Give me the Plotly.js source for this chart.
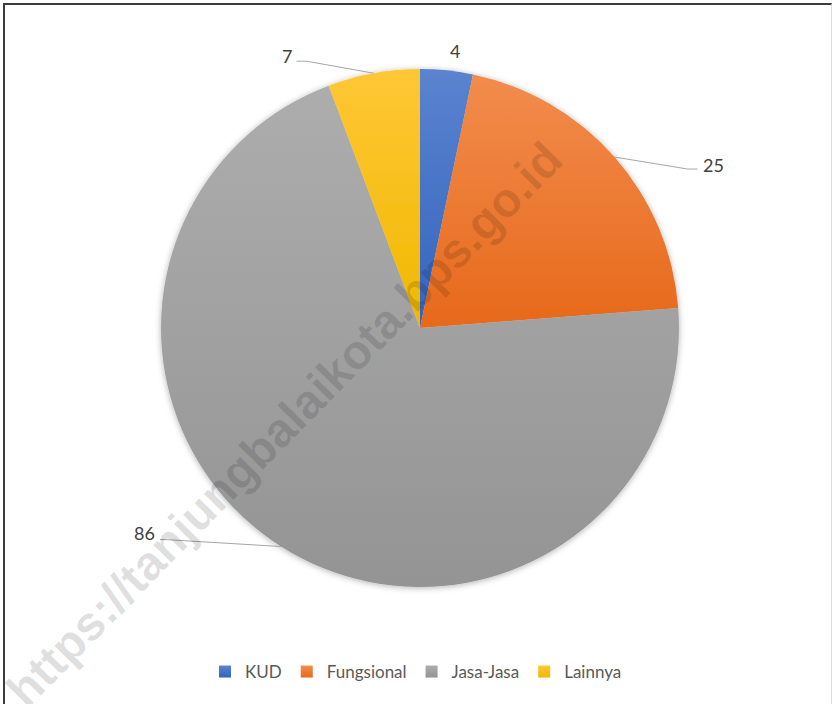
<!DOCTYPE html>
<html><head><meta charset="utf-8">
<script src="https://cdn.plot.ly/plotly-3.0.1.min.js"></script>
<style>
html,body{margin:0;padding:0;background:#fff;}
#wrap{position:relative;width:832px;height:704px;overflow:hidden;}
#chart{width:832px;height:704px;}
#frame{position:absolute;left:3px;top:3px;right:0;bottom:-10px;border-top:2px solid #3c3c3c;border-left:2px solid #3c3c3c;border-right:1px solid #dcdcdc;pointer-events:none;}
</style></head><body>
<div id="wrap"><div id="chart"></div><div id="frame"></div></div>
<script>
// ---- data ----
const categories = ['KUD', 'Fungsional', 'Jasa-Jasa', 'Lainnya'];
const values = [4, 25, 86, 7];
const valueLabels = ['4', '25', '86', '7'];

// ---- style ----
const colors = ['#4472C4', '#ED7D31', '#A5A5A5', '#FFC000'];
const gradTop = ['#5b83cf', '#f28c4d', '#adadad', '#ffc735'];
const gradBot = ['#3364be', '#e7691b', '#949494', '#f0b800'];
const W = 832, H = 704;
const CX = 420, CY = 328, R = 259;
// per-slice label placement, pixel offsets from the slice's outer mid point
const labelCfg = [
  {line: null, tx: 8, ty: -19, anchor: 'center'},
  {line: [[73, 12], [83, 12]], tx: 86, ty: 8, anchor: 'left'},
  {line: [[-116, -7], [-121, -7]], tx: -124, ty: -14, anchor: 'right'},
  {line: [[-67, -12], [-77, -12]], tx: -80, ty: -17, anchor: 'right'}
];

const px = x => x / W;
const py = y => 1 - y / H;

const total = values.reduce((a, b) => a + b, 0);
let cum = 0;
const shapes = [];
const annotations = [];
values.forEach((v, i) => {
  const mid = (cum + v / 2) / total * 2 * Math.PI;
  cum += v;
  const ex = CX + R * Math.sin(mid), ey = CY - R * Math.cos(mid);
  const c = labelCfg[i];
  if (c.line) {
    let d = 'M' + px(ex) + ',' + py(ey);
    c.line.forEach(p => { d += ' L' + px(ex + p[0]) + ',' + py(ey + p[1]); });
    shapes.push({type: 'path', xref: 'paper', yref: 'paper', path: d,
      line: {color: '#a6a6a6', width: 1}});
  }
  annotations.push({xref: 'paper', yref: 'paper', x: px(ex + c.tx), y: py(ey + c.ty),
    xanchor: c.anchor, yanchor: 'middle', showarrow: false, text: valueLabels[i],
    font: {family: 'Lato, "Open Sans", sans-serif', size: 18, color: '#404040'}});
});

// watermark
annotations.push({xref: 'paper', yref: 'paper', x: px(284), y: py(424), xanchor: 'center', yanchor: 'middle',
  showarrow: false, text: 'https://tanjungbalaikota.bps.go.id', textangle: -45.5,
  font: {family: '"Liberation Sans", Arial, sans-serif', size: 48, color: 'rgba(0,0,0,0.12)', weight: 'bold'}});

const trace = {
  type: 'pie', labels: categories, values: values, sort: false, direction: 'clockwise', rotation: 0,
  textinfo: 'none', hoverinfo: 'label+value',
  marker: {colors: colors, line: {width: 0}},
  domain: {x: [px(CX - R), px(CX + R)], y: [py(CY + R), py(CY - R)]}
};

const layout = {
  width: W, height: H, margin: {l: 0, r: 0, t: 0, b: 0},
  paper_bgcolor: '#ffffff', plot_bgcolor: '#ffffff',
  showlegend: true,
  legend: {orientation: 'h', x: 0.5, xanchor: 'center', y: py(672), yanchor: 'middle',
    font: {family: 'Lato, "Open Sans", sans-serif', size: 17, color: '#595959'}, itemwidth: 30},
  shapes: shapes, annotations: annotations
};

function decorate(gd) {
  const svg = gd.querySelector('svg.main-svg');
  const NS = 'http://www.w3.org/2000/svg';
  let defs = svg.querySelector('defs');
  if (!defs) { defs = document.createElementNS(NS, 'defs'); svg.insertBefore(defs, svg.firstChild); }
  if (!defs.querySelector('#pgrad0')) {
    colors.forEach((c, i) => {
      const g = document.createElementNS(NS, 'linearGradient');
      g.setAttribute('id', 'pgrad' + i);
      g.setAttribute('x1', '0'); g.setAttribute('y1', '0'); g.setAttribute('x2', '0'); g.setAttribute('y2', '1');
      [[0, gradTop[i]], [1, gradBot[i]]].forEach(s => {
        const st = document.createElementNS(NS, 'stop');
        st.setAttribute('offset', s[0]); st.setAttribute('stop-color', s[1]);
        g.appendChild(st);
      });
      defs.appendChild(g);
    });
    const f = document.createElementNS(NS, 'filter');
    f.setAttribute('id', 'pshadow');
    f.setAttribute('x', '-10%'); f.setAttribute('y', '-10%'); f.setAttribute('width', '120%'); f.setAttribute('height', '120%');
    const ds = document.createElementNS(NS, 'feDropShadow');
    ds.setAttribute('dx', '0'); ds.setAttribute('dy', '1'); ds.setAttribute('stdDeviation', '3');
    ds.setAttribute('flood-color', '#000'); ds.setAttribute('flood-opacity', '0.3');
    f.appendChild(ds);
    defs.appendChild(f);
  }
  gd.querySelectorAll('g.slice path.surface').forEach((p, i) => {
    p.style.fill = 'url(#pgrad' + i + ')';
  });
  const tr = gd.querySelector('g.trace');
  if (tr) tr.setAttribute('filter', 'url(#pshadow)');
  gd.querySelectorAll('g.legend g.traces path.legendpie').forEach((p, i) => {
    p.style.fill = 'url(#pgrad' + i + ')';
  });
}

Plotly.newPlot('chart', [trace], layout, {displayModeBar: false, staticPlot: true}).then(gd => {
  decorate(gd);
  gd.on('plotly_afterplot', () => decorate(gd));
});
</script>
</body></html>
